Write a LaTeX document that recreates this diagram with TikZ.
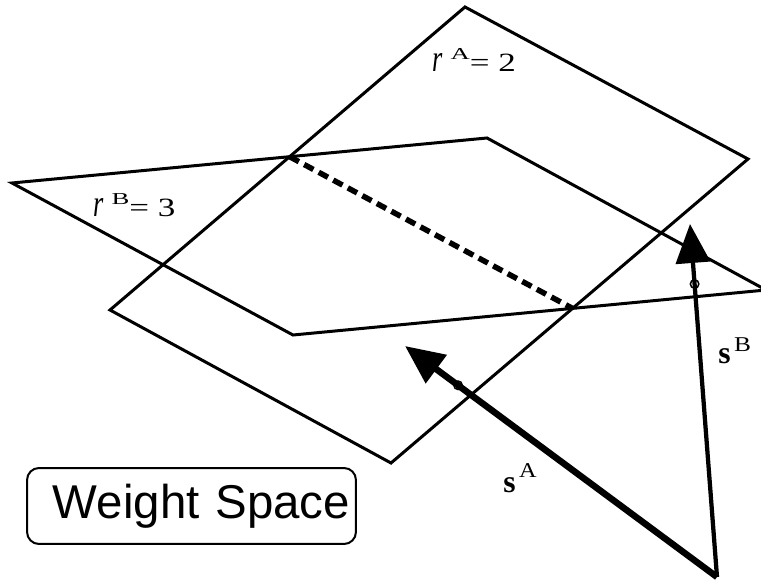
\documentclass[tikz,border=0pt]{standalone}
\usepackage{graphicx}
\usepackage{fontspec}
\setmainfont{Liberation Serif}
\newfontfamily\wsfont{Liberation Sans}
\usetikzlibrary{arrows.meta,calc}
% raised, widened superscript: raise, size, xscale, text
\newcommand\wssup[4]{\raisebox{#1}{\fontsize{#2}{#2}\selectfont\scalebox{#3}[1]{#4}}}
\tikzset{
  wsplane/.style={line width=0.06cm, line join=miter},
  wscut/.style={line width=0.11cm, dash pattern=on 0.21cm off 0.12cm},
  wsvec/.style={-{Triangle[length=0.78cm,width=0.68cm]}},
  wsmark/.style={circle, draw=black, line width=0.03cm, fill=white, minimum size=0.17cm, inner sep=0pt},
  wslabel/.style={font=\fontsize{15}{18}\selectfont, inner sep=0pt, anchor=base west},
  wsbox/.style={draw=black, line width=0.04cm, rounded corners=0.24cm,
    font=\wsfont\fontsize{27}{30}\selectfont, text width=6.34cm, align=right,
    minimum height=1.52cm, inner xsep=0.12cm, inner ysep=0pt}
}
\begin{document}
\begin{tikzpicture}[x=0.02cm,y=-0.02cm]
  \useasboundingbox (0,0) rectangle (761,584);
  % plane A
  \coordinate (A1) at (110,310);
  \coordinate (A2) at (465,7);
  \coordinate (A3) at (748,159);
  \coordinate (A4) at (391,463);
  % plane B
  \coordinate (B1) at (12,183);
  \coordinate (B2) at (487,138);
  \coordinate (B3) at (766,290);
  \coordinate (B4) at (293,335);
  \draw[wsplane] (A1) -- (A2) -- (A3) -- (A4) -- cycle;
  \draw[wsplane] (B1) -- (B2) -- (B3) -- (B4) -- cycle;
  % line where the planes meet
  \coordinate (C1) at (intersection of A1--A2 and B1--B2);
  \coordinate (C2) at (intersection of A3--A4 and B3--B4);
  \draw[wscut] (C1) -- (C2);
  \node[wslabel] (rA) at (432,72)
    {\scalebox{1}[1.45]{\textit{r}}\hspace{4.5pt}\wssup{7.2pt}{9.5}{1.6}{A}\scalebox{1.33}[1]{= 2}};
  \node[wslabel] (rB) at (93,217)
    {\scalebox{1}[1.45]{\textit{r}}\hspace{4.5pt}\wssup{7.2pt}{9.5}{1.6}{B}\scalebox{1.33}[1]{= 3}};
  % vectors
  \coordinate (O) at (717,577);
  \coordinate (tipA) at (405,346);
  \coordinate (tipB) at (690,224);
  \node[wsmark] (mA) at ($(O)!0.83!(tipA)$) {};
  \node[wsmark] (mB) at ($(O)!0.83!(tipB)$) {};
  \draw[wsvec, line width=0.13cm] (O) -- (tipA);
  \draw[wsvec, line width=0.085cm] (O) -- (tipB);
  \node[wslabel] (sA) at (503,492)
    {{\fontsize{18}{20}\selectfont\bfseries s}\hspace{2pt}\wssup{8pt}{12}{1.15}{A}};
  \node[wslabel] (sB) at (718,363)
    {{\fontsize{18}{20}\selectfont\bfseries s}\hspace{2pt}\wssup{6.3pt}{12}{1.2}{B}};
  \node[wsbox] (ws) at (191.5,506) {Weight Space};
\end{tikzpicture}
\end{document}
